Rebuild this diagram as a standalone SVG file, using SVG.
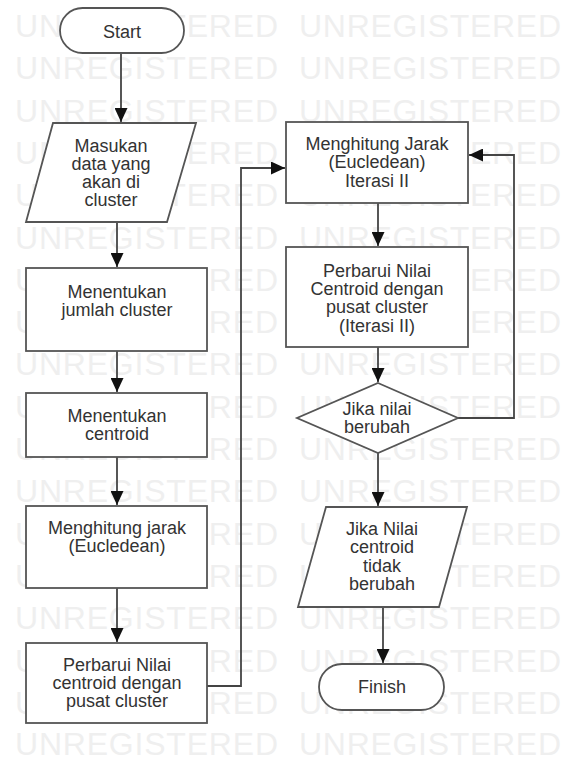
<svg xmlns="http://www.w3.org/2000/svg" width="568" height="757" viewBox="0 0 568 757">
<defs>
<style>
.wm{font-family:"Liberation Sans",Arial,sans-serif;font-size:32px;fill:#efefef}
.shape{fill:#fff;stroke:#555;stroke-width:1.8}
.lbl{font-family:"Liberation Sans",Arial,sans-serif;font-size:18px;fill:#333;text-anchor:middle}
.conn{fill:none;stroke:#444;stroke-width:1.8}
</style>
<marker id="arr" viewBox="0 0 14 13" refX="14" refY="6.5" markerWidth="14" markerHeight="13" markerUnits="userSpaceOnUse" orient="auto">
<path d="M0,0 L14,6.5 L0,13 Z" fill="#111"/>
</marker>
</defs>
<rect width="568" height="757" fill="#fff"/>
<g id="watermark">
<text class="wm" x="15" y="37" textLength="263">UNREGISTERED</text><text class="wm" x="299" y="37" textLength="262">UNREGISTERED</text>
<text class="wm" x="15" y="79" textLength="263">UNREGISTERED</text><text class="wm" x="299" y="79" textLength="262">UNREGISTERED</text>
<text class="wm" x="15" y="122" textLength="263">UNREGISTERED</text><text class="wm" x="299" y="122" textLength="262">UNREGISTERED</text>
<text class="wm" x="15" y="164" textLength="263">UNREGISTERED</text><text class="wm" x="299" y="164" textLength="262">UNREGISTERED</text>
<text class="wm" x="15" y="206" textLength="263">UNREGISTERED</text><text class="wm" x="299" y="206" textLength="262">UNREGISTERED</text>
<text class="wm" x="15" y="249" textLength="263">UNREGISTERED</text><text class="wm" x="299" y="249" textLength="262">UNREGISTERED</text>
<text class="wm" x="15" y="291" textLength="263">UNREGISTERED</text><text class="wm" x="299" y="291" textLength="262">UNREGISTERED</text>
<text class="wm" x="15" y="333" textLength="263">UNREGISTERED</text><text class="wm" x="299" y="333" textLength="262">UNREGISTERED</text>
<text class="wm" x="15" y="375" textLength="263">UNREGISTERED</text><text class="wm" x="299" y="375" textLength="262">UNREGISTERED</text>
<text class="wm" x="15" y="418" textLength="263">UNREGISTERED</text><text class="wm" x="299" y="418" textLength="262">UNREGISTERED</text>
<text class="wm" x="15" y="460" textLength="263">UNREGISTERED</text><text class="wm" x="299" y="460" textLength="262">UNREGISTERED</text>
<text class="wm" x="15" y="502" textLength="263">UNREGISTERED</text><text class="wm" x="299" y="502" textLength="262">UNREGISTERED</text>
<text class="wm" x="15" y="545" textLength="263">UNREGISTERED</text><text class="wm" x="299" y="545" textLength="262">UNREGISTERED</text>
<text class="wm" x="15" y="587" textLength="263">UNREGISTERED</text><text class="wm" x="299" y="587" textLength="262">UNREGISTERED</text>
<text class="wm" x="15" y="629" textLength="263">UNREGISTERED</text><text class="wm" x="299" y="629" textLength="262">UNREGISTERED</text>
<text class="wm" x="15" y="672" textLength="263">UNREGISTERED</text><text class="wm" x="299" y="672" textLength="262">UNREGISTERED</text>
<text class="wm" x="15" y="714" textLength="263">UNREGISTERED</text><text class="wm" x="299" y="714" textLength="262">UNREGISTERED</text>
<text class="wm" x="15" y="755" textLength="263">UNREGISTERED</text><text class="wm" x="299" y="755" textLength="262">UNREGISTERED</text>
</g>
<g id="connectors">
<path class="conn" d="M121,53 V122" marker-end="url(#arr)"/>
<path class="conn" d="M117,222 V267" marker-end="url(#arr)"/>
<path class="conn" d="M117,351 V392" marker-end="url(#arr)"/>
<path class="conn" d="M117,457 V505" marker-end="url(#arr)"/>
<path class="conn" d="M117,588 V642" marker-end="url(#arr)"/>
<path class="conn" d="M207,686 H241 V168 H285" marker-end="url(#arr)"/>
<path class="conn" d="M378,203 V246" marker-end="url(#arr)"/>
<path class="conn" d="M378,347 V382" marker-end="url(#arr)"/>
<path class="conn" d="M458,418 H514 V155 H469" marker-end="url(#arr)"/>
<path class="conn" d="M378,453 V506" marker-end="url(#arr)"/>
<path class="conn" d="M383,607 V663" marker-end="url(#arr)"/>
</g>
<g id="start">
<rect class="shape" x="60" y="8" width="124" height="45" rx="22.5"/>
<text class="lbl" x="122" y="38">Start</text>
</g>
<g id="input-data">
<polygon class="shape" points="53,123 196,123 167,222 26,222"/>
<text class="lbl" x="111" y="152">Masukan</text>
<text class="lbl" x="111" y="170">data yang</text>
<text class="lbl" x="111" y="188">akan di</text>
<text class="lbl" x="111" y="206">cluster</text>
</g>
<g id="jumlah-cluster">
<rect class="shape" x="26" y="268" width="181" height="83"/>
<text class="lbl" x="117" y="298">Menentukan</text>
<text class="lbl" x="117" y="316">jumlah cluster</text>
</g>
<g id="centroid">
<rect class="shape" x="26" y="393" width="181" height="64"/>
<text class="lbl" x="117" y="422">Menentukan</text>
<text class="lbl" x="117" y="440">centroid</text>
</g>
<g id="jarak">
<rect class="shape" x="26" y="506" width="181" height="82"/>
<text class="lbl" x="117" y="534">Menghitung jarak</text>
<text class="lbl" x="117" y="552">(Eucledean)</text>
</g>
<g id="perbarui">
<rect class="shape" x="26" y="643" width="181" height="80"/>
<text class="lbl" x="117" y="671">Perbarui Nilai</text>
<text class="lbl" x="117" y="689">centroid dengan</text>
<text class="lbl" x="117" y="707">pusat cluster</text>
</g>
<g id="jarak-2">
<rect class="shape" x="286" y="122" width="182" height="81"/>
<text class="lbl" x="377" y="150">Menghitung Jarak</text>
<text class="lbl" x="377" y="168">(Eucledean)</text>
<text class="lbl" x="377" y="187">Iterasi II</text>
</g>
<g id="perbarui-2">
<rect class="shape" x="286" y="247" width="182" height="100"/>
<text class="lbl" x="377" y="277">Perbarui Nilai</text>
<text class="lbl" x="377" y="295">Centroid dengan</text>
<text class="lbl" x="377" y="313">pusat cluster</text>
<text class="lbl" x="377" y="332">(Iterasi II)</text>
</g>
<g id="decision">
<polygon class="shape" points="378,383 458,418 378,453 297,418"/>
<text class="lbl" x="377" y="415">Jika nilai</text>
<text class="lbl" x="377" y="433">berubah</text>
</g>
<g id="tidak-berubah">
<polygon class="shape" points="326,507 467,507 439,607 298,607"/>
<text class="lbl" x="382" y="535">Jika Nilai</text>
<text class="lbl" x="382" y="553">centroid</text>
<text class="lbl" x="382" y="572">tidak</text>
<text class="lbl" x="382" y="590">berubah</text>
</g>
<g id="finish">
<rect class="shape" x="319" y="664" width="125" height="46" rx="23"/>
<text class="lbl" x="382" y="693">Finish</text>
</g>
</svg>
